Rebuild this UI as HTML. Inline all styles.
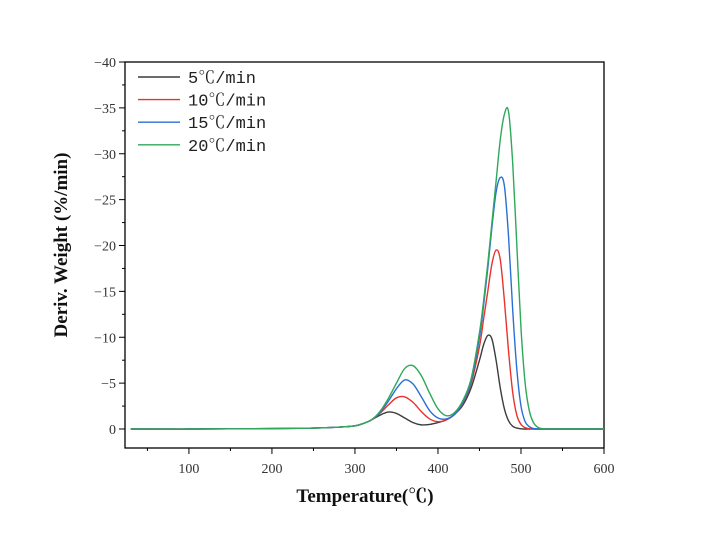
<!DOCTYPE html>
<html><head><meta charset="utf-8"><style>
body{margin:0;background:#fff;width:702px;height:537px;overflow:hidden}
svg{display:block}
.tk{font-family:"Liberation Serif",serif;font-size:14px;fill:#333}
.lg{font-family:"Liberation Mono","Noto Serif CJK SC",monospace;font-size:17px;fill:#222}
</style></head><body>
<svg id="chart" width="702" height="537" xmlns="http://www.w3.org/2000/svg"></svg>
<script>
const temps=[30,100,200,250,280,300,310,320,330,340,350,360,370,380,390,400,410,420,430,440,450,455,460,465,470,475,480,485,490,495,500,505,510,515,520,525,530,540,600];
const rate5 =[0,0,0.05,0.1,0.2,0.35,0.6,1.0,1.5,1.85,1.7,1.2,0.7,0.45,0.5,0.7,1.0,1.6,2.6,4.5,7.5,9.2,10.2,9.8,7.5,4.5,2.2,0.9,0.3,0.1,0.02,0,0,0,0,0,0,0,0];
const rate10=[0,0,0.05,0.1,0.2,0.35,0.6,1.0,1.7,2.6,3.4,3.5,2.9,1.9,1.1,0.8,1.0,1.6,2.8,5.0,9,12,15,18,19.5,18.5,14,8.5,4,1.5,0.5,0.15,0.03,0,0,0,0,0,0];
const rate15=[0,0,0.05,0.1,0.2,0.35,0.6,1.0,1.8,3.0,4.4,5.35,4.9,3.5,2.0,1.2,1.1,1.6,2.9,5.2,10,13.5,17.5,22,25.8,27.4,26.5,21,13,6.5,2.5,0.8,0.25,0.05,0,0,0,0,0];
const rate20=[0,0,0.05,0.1,0.2,0.35,0.6,1.0,1.9,3.3,5.0,6.6,6.9,5.8,3.9,2.2,1.45,1.8,3.1,5.5,10.5,14,18,22.5,27,31.5,34.3,34.6,29,20,11,5,2,0.7,0.2,0.05,0,0,0];
const seriesNames=["5℃/min","10℃/min","15℃/min","20℃/min"];
const xTicks=[100,200,300,400,500,600];
const yTicks=[0,-5,-10,-15,-20,-25,-30,-35,-40];

const NS="http://www.w3.org/2000/svg";
const svg=document.getElementById('chart');
const L=125,R=604,T=62,B=448,XMIN=23,XMAX=600,YMIN=2.07,YMAX=-40;
const xs=v=>L+(v-XMIN)/(XMAX-XMIN)*(R-L);
const ys=v=>T+(v-YMAX)/(YMIN-YMAX)*(B-T);
function el(tag,attrs,parent){const e=document.createElementNS(NS,tag);for(const k in attrs)e.setAttribute(k,attrs[k]);(parent||svg).appendChild(e);return e;}

const frame=el('rect',{x:L,y:T,width:R-L,height:B-T,fill:'none',stroke:'#000','stroke-width':1.3});



for(let v=50;v<=600;v+=50){
  const x=xs(v);const major=v%100===0;
  const t=el('line',{x1:x,x2:x,y1:B,y2:B+(major?6:3),stroke:'#000','stroke-width':1});
  
  
}
xTicks.forEach(v=>{
  const t=el('text',{x:xs(v),y:B+25,'text-anchor':'middle',class:'tk'});
  t.textContent=v;
  
  
});
for(let v=0;v>=-40;v-=2.5){
  const y=ys(v);const major=v%5===0;
  const t=el('line',{x1:L,x2:L-(major?6:3),y1:y,y2:y,stroke:'#000','stroke-width':1});
  
  
}
yTicks.forEach(v=>{
  const t=el('text',{x:L-9,y:ys(v)+5,'text-anchor':'end',class:'tk'});
  t.textContent=v===0?'0':'\u2212'+Math.abs(v);
  
  
});

const xt=el('text',{x:365,y:502,'text-anchor':'middle','font-family':'"Liberation Serif","Noto Serif CJK SC",serif','font-size':19,'font-weight':'bold',fill:'#111'});
xt.textContent='Temperature(℃)';


const yt=el('text',{x:0,y:0,transform:'translate(67,245) rotate(-90)','text-anchor':'middle','font-family':'"Liberation Serif",serif','font-size':19,'font-weight':'bold',fill:'#111'});
yt.textContent='Deriv. Weight (%/min)';



function pathFor(vals){
  const p=temps.map((t,i)=>[xs(t),ys(-vals[i])]);
  let d='M'+p[0][0]+','+p[0][1];
  for(let i=0;i<p.length-1;i++){
    const p0=p[Math.max(0,i-1)],p1=p[i],p2=p[i+1],p3=p[Math.min(p.length-1,i+2)];
    const c1=[p1[0]+(p2[0]-p0[0])/6,p1[1]+(p2[1]-p0[1])/6];
    const c2=[p2[0]-(p3[0]-p1[0])/6,p2[1]-(p3[1]-p1[1])/6];
    d+=' C'+c1+' '+c2+' '+p2;
  }
  return d;
}
const allSeries=[rate5,rate10,rate15,rate20];
const colors=['#3c3c3c','#e8332d','#2a6fd6','#2fa85a'];
const keys=['5','10','15','20'];
allSeries.forEach((vals,i)=>{
  const p=el('path',{d:pathFor(vals),fill:'none',stroke:colors[i],'stroke-width':1.4});
  
  
});
const lg=el('g',{});


seriesNames.forEach((n,i)=>{
  const y=77+i*22.6;
  const l=el('line',{x1:138,x2:180,y1:y,y2:y,stroke:colors[i],'stroke-width':1.4},lg);
  
  
  const t=el('text',{x:188,y:y+6,class:'lg'},lg);
  t.textContent=n;
  
  
});
</script>
</body></html>
